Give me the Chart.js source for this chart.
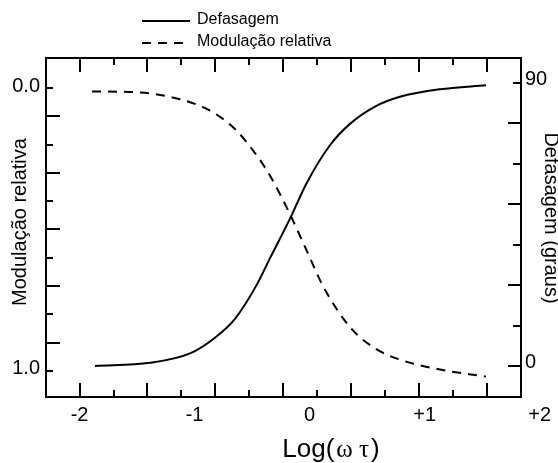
<!DOCTYPE html>
<html><head><meta charset="utf-8">
<script src="https://cdn.jsdelivr.net/npm/chart.js@4.4.0/dist/chart.umd.min.js"></script>
<style>html,body{margin:0;padding:0;background:#fff}#wrap{width:558px;height:463px}</style>
</head><body><div id="wrap"><canvas id="c" width="558" height="463"></canvas></div>
<script>
// ---- data ----
const xTickLabels = ['-2', '-1', '0', '+1', '+2'];
const xTickLabelValues = [-2, -1, 0, 1, 2];
const xTickMarks = [-2, -1.705, -1.41, -1.115, -0.82, -0.525, -0.23, 0.065, 0.36, 0.655, 0.95, 1.245, 1.54];
const leftTickLabels = ['0.0', '1.0'];
const leftTickLabelValues = [0, 1];
const leftTickMarks = [0, 0.1, 0.2, 0.3, 0.4, 0.5, 0.6, 0.7, 0.8, 0.9, 1.0];
const rightTickLabels = ['90', '0'];
const rightTickLabelValues = [90, 0];
const rightTickMarks = [0, 12.86, 25.71, 38.57, 51.43, 64.29, 77.14, 90];

const defasagemX = [-1.866, -1.388, -1.040, -0.823, -0.649, -0.460, -0.344, -0.166, -0.025, 0.177, 0.351, 0.569, 0.786, 1.134, 1.534];
const defasagemY = [0.0, 1.0, 4.0, 9.0, 15.0, 25.8, 34.3, 47.2, 58.2, 70.2, 77.0, 82.5, 85.6, 88.0, 89.3];
const modulacaoX = [-1.892, -1.475, -1.127, -0.866, -0.649, -0.475, -0.344, -0.166, -0.025, 0.117, 0.351, 0.569, 0.786, 1.134, 1.534];
const modulacaoY = [0.012, 0.016, 0.04, 0.08, 0.145, 0.23, 0.31, 0.45, 0.575, 0.7, 0.845, 0.92, 0.96, 0.995, 1.02];

const seriesNames = ['Defasagem', 'Modulação relativa'];
const xTitle = ['Log(', 'ω τ', ')'];
const leftTitle = 'Modulação relativa';
const rightTitle = 'Defasagem (graus)';

const SANS = '"Liberation Sans", Arial, sans-serif';
const SERIF = '"Liberation Serif", "DejaVu Serif", serif';

const decor = {
  id: 'decor',
  afterDraw(chart) {
    const { ctx, chartArea: a, scales } = chart;
    const sx = scales.x, sy = scales.y, sy2 = scales.y2;
    ctx.save();
    ctx.strokeStyle = '#000'; ctx.fillStyle = '#000'; ctx.lineWidth = 2;
    ctx.strokeRect(a.left, a.top, a.right - a.left, a.bottom - a.top);
    ctx.beginPath();
    xTickMarks.forEach((v, i) => {
      const p = Math.round(sx.getPixelForValue(v));
      const len = i % 2 === 0 ? 14 : 7;
      ctx.moveTo(p, a.bottom); ctx.lineTo(p, a.bottom - len);
      ctx.moveTo(p, a.top); ctx.lineTo(p, a.top + len);
    });
    leftTickMarks.forEach((v, i) => {
      const p = Math.round(sy.getPixelForValue(v));
      const len = i % 2 === 1 ? 14 : 7;
      ctx.moveTo(a.left, p); ctx.lineTo(a.left + len, p);
    });
    rightTickMarks.forEach((v, i) => {
      const p = Math.round(sy2.getPixelForValue(v));
      const len = i % 2 === 0 ? 13 : 8;
      ctx.moveTo(a.right, p); ctx.lineTo(a.right - len, p);
    });
    ctx.stroke();

    ctx.font = '20px ' + SANS;
    ctx.textBaseline = 'middle';
    ctx.textAlign = 'center';
    xTickLabelValues.forEach((v, i) => ctx.fillText(xTickLabels[i], sx.getPixelForValue(v), a.bottom + 18));
    ctx.textAlign = 'right';
    leftTickLabelValues.forEach((v, i) => ctx.fillText(leftTickLabels[i], a.left - 6, sy.getPixelForValue(v) - 2));
    ctx.textAlign = 'left';
    rightTickLabelValues.forEach((v, i) => ctx.fillText(rightTickLabels[i], a.right + 4, sy2.getPixelForValue(v) - 4));

    // x title
    const f1 = '26px ' + SANS, f2 = '25px ' + SERIF;
    ctx.font = f1; const w1 = ctx.measureText(xTitle[0]).width, w3 = ctx.measureText(xTitle[2]).width;
    ctx.font = f2; const w2 = ctx.measureText(xTitle[1]).width;
    let xs = 331 - (w1 + w2 + w3 + 4) / 2;
    const by = 457;
    ctx.textAlign = 'left'; ctx.textBaseline = 'alphabetic';
    ctx.font = f1; ctx.fillText(xTitle[0], xs, by); xs += w1 + 2;
    ctx.font = f2; ctx.fillText(xTitle[1], xs, by); xs += w2 + 2;
    ctx.font = f1; ctx.fillText(xTitle[2], xs, by);

    // left title
    ctx.font = '20px ' + SANS; ctx.textAlign = 'center'; ctx.textBaseline = 'alphabetic';
    ctx.save(); ctx.translate(26, 222); ctx.rotate(-Math.PI / 2); ctx.fillText(leftTitle, 0, 0); ctx.restore();
    // right title (slightly cut by the page edge, as in the original)
    ctx.save(); ctx.translate(545, 218); ctx.rotate(Math.PI / 2); ctx.fillText(rightTitle, 0, 0); ctx.restore();

    // legend
    const ds = chart.data.datasets;
    const rows = [21, 43];
    ds.forEach((d, i) => {
      ctx.save();
      ctx.strokeStyle = d.borderColor; ctx.lineWidth = d.borderWidth;
      ctx.setLineDash(d.borderDash || []);
      ctx.beginPath(); ctx.moveTo(142, rows[i]); ctx.lineTo(190, rows[i]); ctx.stroke();
      ctx.restore();
      ctx.font = '16px ' + SANS; ctx.textAlign = 'left'; ctx.textBaseline = 'middle';
      ctx.fillText(d.label, 197, rows[i] - 1);
    });
    ctx.restore();
  }
};

const xMin = (46 - 309.6) / 115, xMax = (521 - 309.6) / 115;

new Chart(document.getElementById('c'), {
  type: 'line',
  data: {
    datasets: [
      { label: seriesNames[0], data: defasagemX.map((x, i) => ({ x, y: defasagemY[i] })), yAxisID: 'y2',
        borderColor: '#000', borderWidth: 2, pointRadius: 0, cubicInterpolationMode: 'monotone', fill: false },
      { label: seriesNames[1], data: modulacaoX.map((x, i) => ({ x, y: modulacaoY[i] })), yAxisID: 'y',
        borderColor: '#000', borderWidth: 2, borderDash: [9, 7], pointRadius: 0, cubicInterpolationMode: 'monotone', fill: false }
    ]
  },
  options: {
    responsive: false, animation: false, devicePixelRatio: 1,
    layout: { padding: { left: 46, right: 37, top: 58, bottom: 66 } },
    plugins: { legend: { display: false }, tooltip: { enabled: false } },
    scales: {
      x: { type: 'linear', min: xMin, max: xMax, display: false },
      y: { type: 'linear', min: -0.106, max: 1.092, reverse: true, display: false },
      y2: { type: 'linear', min: -9.86, max: 97.95, display: false }
    }
  },
  plugins: [decor]
});
</script></body></html>
